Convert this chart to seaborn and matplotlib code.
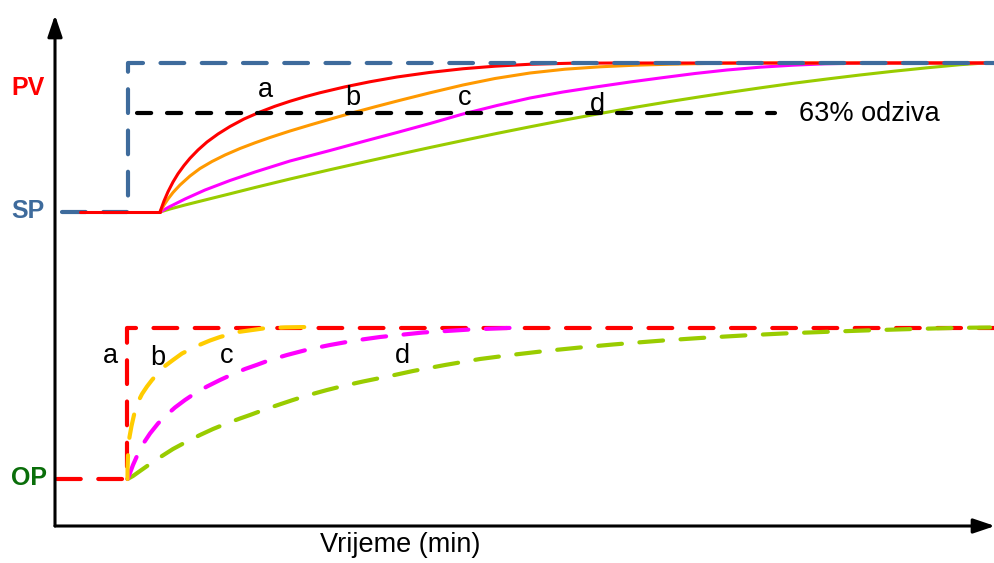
import numpy as np
import pandas as pd
import matplotlib.pyplot as plt
import seaborn as sns

sns.set_style("white")
plt.rcParams['font.family'] = ['Liberation Sans', 'DejaVu Sans']
plt.rcParams['text.color'] = 'black'

# vrijeme (min) i odziv, ocitano sa slike
sp_t = [0.7, 7.3, 7.3, 94.0]
sp_y = [62.8, 62.8, 92.6, 92.6]
pv_base_t = [2.5, 10.5]
pv_base_y = [62.8, 62.8]

pv_a_t = [10.5, 10.9, 11.3, 11.8, 12.3, 12.9, 13.5, 14.3, 15.2, 16.3, 17.5, 18.9, 20.5, 22.0,
          23.5, 25.0, 26.5, 29.0, 31.5, 34.2, 37.5, 40.8, 44.0, 47.5, 51.5, 56.0, 94.0]
pv_a_y = [62.8, 65.0, 66.85, 68.8, 70.45, 72.1, 73.55, 75.2, 76.8, 78.4, 79.9, 81.4, 82.8, 83.95,
          84.95, 85.85, 86.65, 87.83, 88.85, 89.8, 90.72, 91.45, 91.96, 92.35, 92.55, 92.6, 92.6]
pv_b_t = [10.5, 10.9, 11.3, 11.8, 12.5, 13.5, 14.5, 15.7, 17.0, 18.5, 20.0, 21.5, 23.5, 25.5,
          27.5, 29.5, 32.0, 34.5, 37.5, 40.8, 44.0, 47.5, 51.0, 54.5, 58.0, 61.5, 65.5, 69.5, 94.0]
pv_b_y = [62.8, 64.2, 65.4, 66.7, 68.2, 70.0, 71.5, 72.9, 74.2, 75.5, 76.64, 77.7, 79.0, 80.2,
          81.36, 82.5, 83.84, 85.14, 86.64, 88.2, 89.5, 90.6, 91.36, 91.84, 92.16, 92.36, 92.52, 92.6, 92.6]
pv_c_t = [10.5, 11.5, 13.0, 15.0, 17.5, 20.0, 23.5, 27.5, 31.0, 34.2, 37.5, 40.8, 44.2, 47.5,
          50.8, 54.2, 57.5, 60.5, 64.0, 67.2, 70.5, 73.8, 77.0, 80.5, 84.5, 94.0]
pv_c_y = [62.8, 63.9, 65.4, 67.2, 69.1, 70.8, 73.0, 75.1, 77.0, 78.7, 80.5, 82.4, 84.1, 85.6,
          86.8, 87.84, 88.8, 89.6, 90.5, 91.2, 91.76, 92.16, 92.44, 92.58, 92.6, 92.6]
pv_d_t = [10.5, 11.5, 13.0, 15.0, 17.5, 20.0, 23.5, 27.5, 31.0, 34.2, 37.5, 40.8, 44.2, 47.5,
          51.0, 54.5, 58.0, 61.5, 64.5, 67.2, 70.5, 73.8, 77.2, 80.5, 83.8, 87.2, 90.5, 93.0, 94.0]
pv_d_y = [62.8, 63.4, 64.2, 65.2, 66.44, 67.7, 69.4, 71.26, 72.84, 74.26, 75.7, 77.1, 78.52, 79.84,
          81.2, 82.5, 83.74, 84.9, 85.84, 86.66, 87.62, 88.54, 89.4, 90.2, 90.94, 91.64, 92.26, 92.6, 92.6]

line63_t = [8.2, 72.0]
line63_y = [82.6, 82.6]

op_a_t = [0.2, 7.25, 7.25, 94.0]
op_a_y = [9.4, 9.4, 39.7, 39.7]
op_b_t = [7.25, 7.26, 7.32, 7.45, 7.65, 7.9, 8.2, 8.7, 9.2, 9.7, 10.3, 11.0, 11.8, 12.7, 13.5,
          14.3, 15.5, 16.5, 18.3, 20.8, 23.0, 25.3]
op_b_y = [9.4, 12.0, 15.2, 17.8, 20.0, 22.2, 24.4, 26.4, 27.9, 29.2, 30.6, 32.0, 33.2, 34.5, 35.3,
          36.1, 37.1, 37.8, 38.8, 39.5, 39.72, 39.8]
op_c_t = [7.25, 7.5, 7.8, 8.2, 8.8, 9.5, 10.3, 11.1, 12.0, 13.0, 14.0, 15.2, 16.5, 17.7, 19.0,
          20.2, 21.5, 23.2, 25.3, 27.5, 30.0, 32.5, 36.8, 41.5, 46.5]
op_c_y = [9.4, 10.6, 12.2, 14.0, 16.4, 18.5, 20.5, 22.1, 23.7, 25.2, 26.54, 27.9, 29.2, 30.3, 31.4,
          32.24, 33.2, 34.2, 35.3, 36.2, 37.1, 37.8, 38.7, 39.3, 39.7]
op_d_t = [7.25, 7.8, 8.5, 9.5, 10.7, 11.8, 13.2, 14.5, 15.8, 17.2, 18.5, 19.5, 21.2, 22.5, 23.7,
          25.2, 27.2, 29.0, 30.8, 33.5, 35.8, 39.0, 42.5, 46.0, 49.2, 52.5, 55.8, 58.5, 60.8, 64.5,
          68.8, 72.8, 77.2, 81.5, 85.8, 90.5, 93.5]
op_d_y = [9.4, 10.0, 11.0, 12.4, 14.0, 15.4, 16.9, 18.2, 19.4, 20.54, 21.5, 22.2, 23.46, 24.34, 25.14,
          26.1, 27.2, 28.1, 28.9, 30.0, 31.0, 32.2, 33.4, 34.3, 35.04, 35.7, 36.3, 36.74, 37.1, 37.6,
          38.1, 38.5, 38.84, 39.14, 39.4, 39.64, 39.7]

fig = plt.figure(figsize=(9.95, 5.63), dpi=100)
ax = fig.add_axes([55/995, 37/563, 940/995, 511/563])

dash = (0, (5.7, 4.2))
def draw(t, y, color, lw, ls='-', z=2):
    sns.lineplot(x=t, y=y, ax=ax, color=color, lw=lw, linestyle=ls, sort=False, zorder=z,
                 estimator=None, dash_capstyle='round', solid_capstyle='round',
                 solid_joinstyle='round')

# PV / SP
draw(pv_d_t, pv_d_y, '#99cc00', 2.2)
draw(pv_c_t, pv_c_y, '#ff00ff', 2.2)
draw(pv_b_t, pv_b_y, '#ff9900', 2.2)
draw(pv_a_t, pv_a_y, '#ff0000', 2.2)
draw(sp_t, sp_y, '#3e6b9c', 3, dash, z=3)
draw(pv_base_t, pv_base_y, '#ff0000', 2.2, z=4)
draw(line63_t, line63_y, 'black', 3, (0, (3.4, 3.8)), z=3)

# OP
draw(op_a_t, op_a_y, '#ff0000', 3, dash)
draw(op_d_t, op_d_y, '#99cc00', 3, dash)
draw(op_c_t, op_c_y, '#ff00ff', 3, dash)
draw(op_b_t, op_b_y, '#ffcc00', 3, dash)

ax.set_xlim(0, 94)
ax.set_ylim(0, 102.2)
ax.set_xticks([])
ax.set_yticks([])
for s in ax.spines.values():
    s.set_visible(False)
ax.set_xlabel('')
ax.set_ylabel('')

arrow = dict(arrowstyle='-|>,head_length=0.65,head_width=0.22', lw=2.2, color='black',
             mutation_scale=20, shrinkA=0, shrinkB=0)
ax.annotate('', xy=(0, 1), xytext=(0, 0), xycoords='axes fraction', arrowprops=arrow)
ax.annotate('', xy=(1, 0), xytext=(0, 0), xycoords='axes fraction', arrowprops=arrow)

fs = 19.5
for txt, x, y in [('a', 21.0, 85.8), ('b', 29.8, 84.2), ('c', 41.0, 84.2), ('d', 54.2, 82.8),
                  ('a', 5.5, 32.6), ('b', 10.3, 32.2), ('c', 17.2, 32.6), ('d', 34.7, 32.6)]:
    ax.text(x, y, txt, fontsize=fs, ha='center', va='baseline')
ax.text(74.4, 81.0, '63% odziva', fontsize=fs, ha='left', va='baseline')

ax.text(-2.7, 86.2, 'PV', fontsize=18, fontweight='bold', color='#ff0000', ha='center', va='baseline', clip_on=False)
ax.text(-2.7, 61.6, 'SP', fontsize=18, fontweight='bold', color='#3e6b9c', ha='center', va='baseline', clip_on=False)
ax.text(-2.6, 8.2, 'OP', fontsize=18, fontweight='bold', color='#0a6e0a', ha='center', va='baseline', clip_on=False)
ax.text(34.5, -5.2, 'Vrijeme (min)', fontsize=fs, ha='center', va='baseline', clip_on=False)

fig.savefig('out.png', dpi=100)
